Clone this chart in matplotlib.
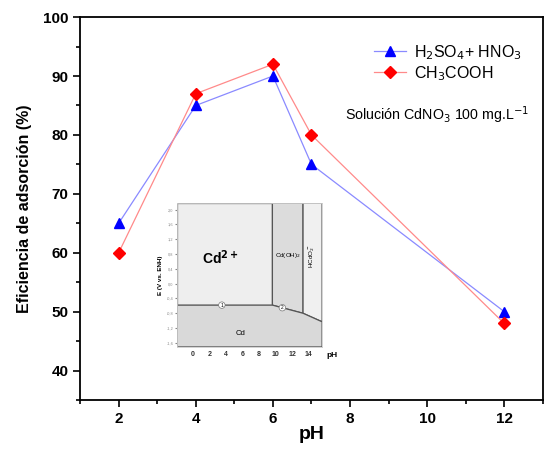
import matplotlib
matplotlib.use("Agg")
import matplotlib.pyplot as plt
from matplotlib.ticker import MultipleLocator
from matplotlib.patches import Polygon

plt.rcParams['font.family'] = ['Liberation Sans', 'DejaVu Sans']

ph = [2, 4, 6, 7, 12]
h2so4_hno3 = [65, 85, 90, 75, 50]
ch3cooh = [60, 87, 92, 80, 48]

inset_xticks = [0, 2, 4, 6, 8, 10, 12, 14]
inset_yticks = [2.0, 1.6, 1.2, 0.8, 0.4, 0.0, -0.4, -0.8, -1.2, -1.6]
inset_ylabels = ['2,0', '1,6', '1,2', '0,8', '0,4', '0,0', '-0,4', '-0,8', '-1,2', '-1,6']

fig = plt.figure(figsize=(5.45, 4.5), dpi=100)
ax = fig.add_axes([0.147, 0.111, 0.849, 0.851])

ax.plot(ph, h2so4_hno3, color='#8a8aff', lw=0.9, marker='^', ms=7.5,
        markerfacecolor='#0000ff', markeredgecolor='#0000ff', label='H$_2$SO$_4$+ HNO$_3$')
ax.plot(ph, ch3cooh, color='#ff8a8a', lw=0.9, marker='D', ms=6,
        markerfacecolor='#ff0000', markeredgecolor='#ff0000', label='CH$_3$COOH')

ax.set_xlim(1, 13)
ax.set_ylim(35, 100)
ax.xaxis.set_major_locator(MultipleLocator(2))
ax.xaxis.set_minor_locator(MultipleLocator(1))
ax.yaxis.set_major_locator(MultipleLocator(10))
ax.yaxis.set_minor_locator(MultipleLocator(5))
ax.tick_params(which='major', direction='out', length=5, width=1.2, labelsize=11)
ax.tick_params(which='minor', direction='out', length=3, width=1.2)
for lab in ax.get_xticklabels() + ax.get_yticklabels():
    lab.set_fontweight('bold')
for s in ax.spines.values():
    s.set_linewidth(1.3)
ax.set_xlabel('pH', fontsize=14, fontweight='bold', labelpad=0)
ax.set_ylabel('Eficiencia de adsorción (%)', fontsize=11.5, fontweight='bold', labelpad=8)

leg = ax.legend(loc='upper right', bbox_to_anchor=(0.985, 0.97), frameon=False,
                fontsize=11.5, handlelength=2.0, handletextpad=0.5, labelspacing=0.15)
ax.text(0.572, 0.745, 'Solución CdNO$_3$ 100 mg.L$^{-1}$', transform=ax.transAxes,
        fontsize=10.3, va='center', ha='left')

# Inset: Pourbaix diagram
bg = fig.add_axes([0.294, 0.189, 0.330, 0.378])
bg.set_facecolor('white')
bg.set_xticks([]); bg.set_yticks([])
for s in bg.spines.values():
    s.set_visible(False)

ins = fig.add_axes([0.325, 0.229, 0.266, 0.320])
xl = (-1.9, 15.6)
yl = (-1.71, 2.18)
ins.set_xlim(*xl)
ins.set_ylim(*yl)
edge = '#555555'
ins.add_patch(Polygon([(xl[0], -0.58), (9.6, -0.58), (9.6, yl[1]), (xl[0], yl[1])],
                      closed=True, facecolor='#eeeeee', edgecolor=edge, lw=0.9))
ins.add_patch(Polygon([(9.6, -0.58), (13.3, -0.80), (13.3, yl[1]), (9.6, yl[1])],
                      closed=True, facecolor='#dcdcdc', edgecolor=edge, lw=0.9))
ins.add_patch(Polygon([(13.3, -0.80), (xl[1], -1.03), (xl[1], yl[1]), (13.3, yl[1])],
                      closed=True, facecolor='#f0f0f0', edgecolor=edge, lw=0.9))
ins.add_patch(Polygon([(xl[0], -0.58), (9.6, -0.58), (13.3, -0.80), (xl[1], -1.03),
                       (xl[1], yl[0]), (xl[0], yl[0])],
                      closed=True, facecolor='#d9d9d9', edgecolor=edge, lw=0.9))
ins.text(3.3, 0.69, 'Cd$^{\\mathbf{2+}}$', fontsize=10, fontweight='bold', ha='center', va='center')
ins.text(11.45, 0.75, 'Cd(OH)$_2$', fontsize=4.5, ha='center', va='center')
ins.text(14.45, 0.75, 'HCdO$_2^-$', fontsize=4.5, ha='center', va='center', rotation=90)
ins.text(5.7, -1.35, 'Cd', fontsize=5.5, ha='center', va='center')
ins.text(3.5, -0.58, '1', fontsize=3.5, ha='center', va='center',
         bbox=dict(boxstyle='circle,pad=0.15', fc='white', ec='#777777', lw=0.5))
ins.text(10.8, -0.65, '2', fontsize=3.5, ha='center', va='center',
         bbox=dict(boxstyle='circle,pad=0.15', fc='white', ec='#777777', lw=0.5))
ins.set_xticks(inset_xticks)
ins.set_yticks(inset_yticks)
ins.set_yticklabels(inset_ylabels)
ins.tick_params(axis='x', labelsize=5, length=0, pad=3, labelcolor='#333333')
ins.tick_params(axis='y', labelsize=2.8, length=1.5, pad=1, labelcolor='#888888', color='#888888')
for lab in ins.get_xticklabels():
    lab.set_fontweight('bold')
for s in ins.spines.values():
    s.set_color('#cccccc'); s.set_linewidth(0.6)
ins.set_ylabel('E (V vs. ENH)', fontsize=4.5, fontweight='bold', labelpad=3)
ins.text(1.07, -0.06, 'pH', transform=ins.transAxes, fontsize=6, fontweight='bold',
         ha='center', va='center')

fig.savefig('out.png', dpi=100)
